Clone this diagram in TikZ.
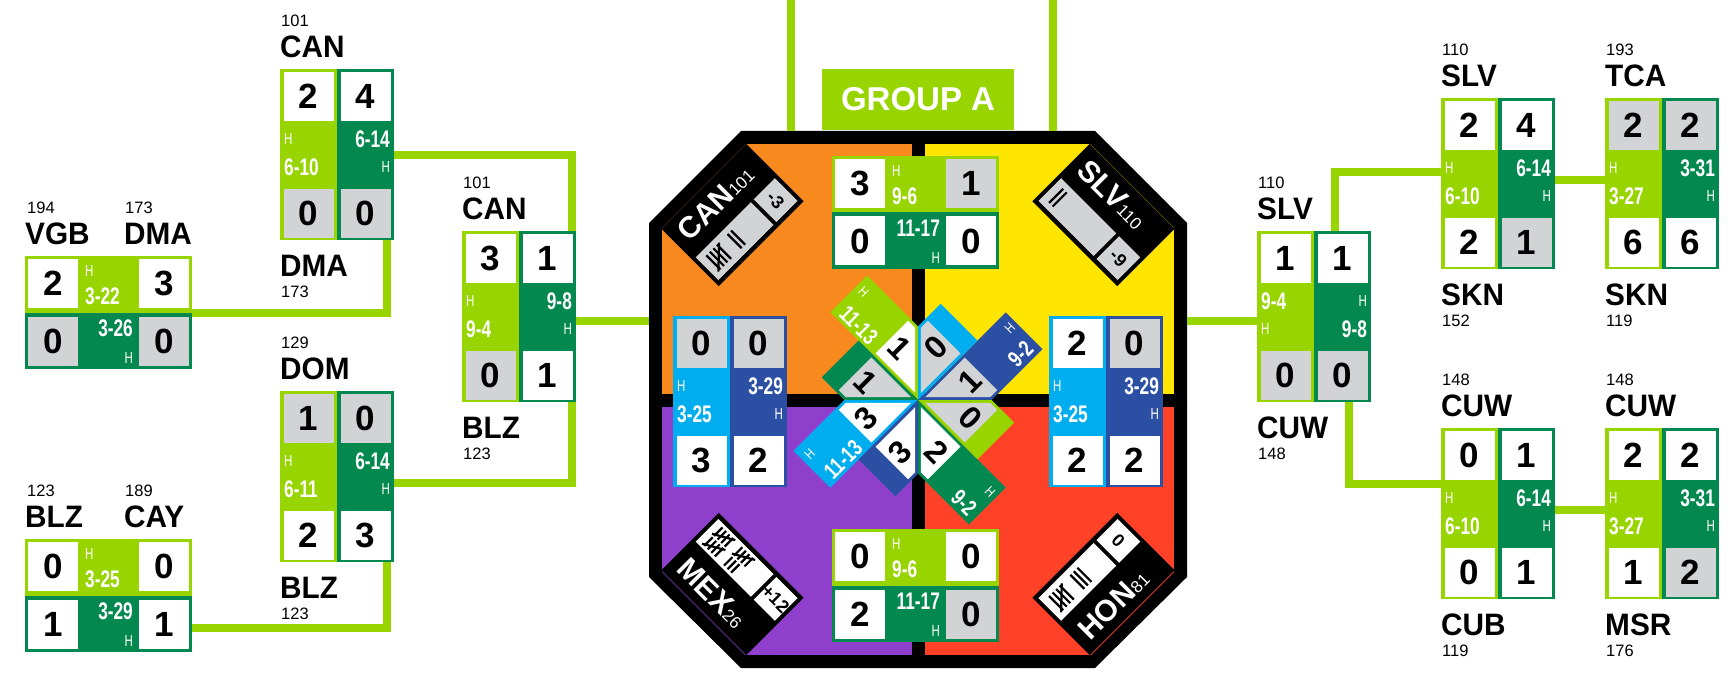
\documentclass[tikz,border=0pt]{standalone}
\usepackage{fontspec}
\setmainfont{Liberation Sans}
\definecolor{lgreen}{RGB}{151,212,0}
\definecolor{dgreen}{RGB}{3,137,79}
\definecolor{lblue}{RGB}{0,174,239}
\definecolor{dblue}{RGB}{43,80,163}
\definecolor{gy}{RGB}{209,211,212}
\colorlet{wh}{white}
\definecolor{qorange}{RGB}{247,137,31}
\definecolor{qyellow}{RGB}{255,229,0}
\definecolor{qpurple}{RGB}{142,64,204}
\definecolor{qred}{RGB}{255,65,40}

\newcommand\hh{{\fontsize{16}{16}\selectfont\mdseries H}}

% name, top left, left colour, right colour, cells, texts (left up, left down, right up, right down)
\newcommand\vcard[9]{%
  \begin{scope}[shift={(#2)}]
    \fill[#3] (0,0) rectangle (57,171);
    \fill[#4] (57,0) rectangle (114,171);
    \foreach \dg/\fl [count=\i from 0] in {#5}{%
      \pgfmathsetmacro\cx{3.5+57*mod(\i,2)}%
      \pgfmathsetmacro\cy{3+117*int(\i/2)}%
      \fill[\fl] (\cx,\cy) rectangle ++(50,49);
      \node[num] (#1d\i) at (\cx+25,\cy+24.5) {\dg};
    }
    \node[sc, anchor=west] (#1lt) at (4,70) {#6};
    \node[sc, anchor=west] (#1lb) at (4,98) {#7};
    \node[sc, anchor=east] (#1rt) at (110,70) {#8};
    \node[sc, anchor=east] (#1rb) at (110,98) {#9};
    \node[inner sep=0pt, minimum width=114pt, minimum height=171pt, anchor=north west] (#1) at (0,0) {};
  \end{scope}}

% name, top left, top colour, bottom colour, cells, texts (top up, top down, bottom up, bottom down)
\newcommand\hcard[9]{%
  \begin{scope}[shift={(#2)}]
    \fill[#3] (0,0) rectangle (167,56.5);
    \fill[#4] (0,56.5) rectangle (167,113);
    \foreach \dg/\fl [count=\i from 0] in {#5}{%
      \pgfmathsetmacro\cx{3+111*mod(\i,2)}%
      \pgfmathsetmacro\cy{3+57.5*int(\i/2)}%
      \fill[\fl] (\cx,\cy) rectangle ++(50,49);
      \node[num] (#1d\i) at (\cx+25,\cy+24.5) {\dg};
    }
    \node[sc, anchor=west] (#1lt) at (60,15) {#6};
    \node[sc, anchor=west] (#1lb) at (60,40) {#7};
    \node[sc, anchor=east] (#1rt) at (108,72) {#8};
    \node[sc, anchor=east] (#1rb) at (108,102) {#9};
    \node[inner sep=0pt, minimum width=167pt, minimum height=113pt, anchor=north west] (#1) at (0,0) {};
  \end{scope}}

\newcommand\cardlabels[5]{%
  \node[rank] (#1rankA) at ([xshift=1pt,yshift=48pt]#1.north west) {#2};
  \node[team] (#1teamA) at ([yshift=22pt]#1.north west) {#3};
  \node[team] (#1teamB) at ([yshift=-25pt]#1.south west) {#4};
  \node[rank] (#1rankB) at ([xshift=1pt,yshift=-51pt]#1.south west) {#5};}

\newcommand\pairlabels[5]{%
  \node[rank] (#1rankA) at ([xshift=2pt,yshift=48pt]#1.north west) {#2};
  \node[team] (#1teamA) at ([yshift=22pt]#1.north west) {#3};
  \node[rank] (#1rankB) at ([xshift=100pt,yshift=48pt]#1.north west) {#4};
  \node[team] (#1teamB) at ([xshift=99pt,yshift=22pt]#1.north west) {#5};}

% x, y, strokes, half height
\newcommand\tallygrp[4]{%
  \foreach \k in {1,...,#3}{\ifnum\k<5 \draw[tally] ({#1+5*\k},{#2-#4}) -- ++(0,{2*#4});\fi}%
  \ifnum#3=5 \draw[tally] ({#1+2},{#2+#4}) -- ({#1+23},{#2-#4});\fi}

% centre, angle, side, team, rank, tallies, points, box colour
\newcommand\teamband[8]{%
  \begin{scope}[shift={(#1)}, rotate=#2]
    \fill (-60,-40.5) rectangle (60,40.5);
    \pgfmathsetmacro\by{-20*#3}
    \node[bandname, rotate=#2] (#4band) at (-50,{21*#3}) {#4{\fontsize{17}{17}\selectfont\mdseries #5}};
    \fill[#8] (-56,{\by-16}) rectangle (22,{\by+16});
    \fill[#8] (26,{\by-16}) rectangle (56,{\by+16});
    #6
    \node[bandpts] (#4pts) at (41,\by) {#7};
  \end{scope}}

% angle, long colour, short colour, long cell, digit, short cell, digit, text angle, texts
\newcommand\pinarm[9]{%
  \begin{scope}[shift={(918,400)}, rotate=#1]
    \fill[#2] (0,0) -- (52,52) -- (124,52) -- (124,0) -- cycle;
    \fill[#3] (0,0) -- (52,-52) -- (84,-52) -- (84,0) -- cycle;
    \fill[#4] (7,3) -- (53,49) -- (63,49) -- (63,3) -- cycle;
    \fill[#6] (7,-3) -- (53,-49) -- (63,-49) -- (63,-3) -- cycle;
    \node[rotate=#8, pindig] (arm#1a) at (50,24) {#5};
    \node[rotate=#8, pindig] (arm#1b) at (50,-24) {#7};
    #9
  \end{scope}}

\begin{document}
\begin{tikzpicture}[x=1pt, y=-1pt,
  link/.style={draw=lgreen, line width=8pt},
  num/.style={font=\fontsize{35}{35}\selectfont\bfseries, inner sep=0pt},
  sc/.style={font=\fontsize{24}{24}\selectfont\bfseries, text=white, inner sep=0pt, xscale=0.72},
  team/.style={font=\fontsize{31}{31}\selectfont\bfseries, anchor=west, inner sep=0pt, xscale=0.96},
  rank/.style={font=\fontsize{16.5}{16.5}\selectfont, anchor=west, inner sep=0pt},
  bandname/.style={font=\fontsize{30}{30}\selectfont\bfseries, text=white, anchor=west, inner sep=0pt},
  bandpts/.style={font=\fontsize{18}{18}\selectfont\bfseries, rotate=-45, inner sep=0pt},
  tally/.style={line width=2.2pt},
  pindig/.style={font=\fontsize{32}{32}\selectfont\bfseries, inner sep=0pt},
  pinsc/.style={font=\fontsize{23}{23}\selectfont\bfseries, text=white, inner sep=0pt, xscale=0.75},
  pinh/.style={font=\fontsize{14}{14}\selectfont, text=white, inner sep=0pt, xscale=0.8},
]
\useasboundingbox (0,0) rectangle (1731,676);

% group board
\node[inner sep=0pt, minimum width=538pt, minimum height=537pt] (oct) at (918,399.5) {};
\fill (741,131) -- (1095,131) -- (1187,223) -- (1187,577) -- (1095,668) -- (741,668) -- (649,577) -- (649,223) -- cycle;
\begin{scope}
  \clip (746,144) -- (1090,144) -- (1174,228) -- (1174,572) -- (1091,655) -- (745,655) -- (662,572) -- (662,228) -- cycle;
  \fill[qorange] (662,144) rectangle (918,400);
  \fill[qyellow] (918,144) rectangle (1174,400);
  \fill[qpurple] (662,400) rectangle (918,655);
  \fill[qred] (918,400) rectangle (1174,655);
\end{scope}
\fill (911.5,144) rectangle (924.5,655);
\fill (662,393.5) rectangle (1174,406.5);

\teamband{732.5,215}{45}{-1}{CAN}{101}{\tallygrp{-52}{\by}{5}{10}\tallygrp{-22}{\by}{2}{10}}{-3}{gy}
\teamband{1103.5,215}{-45}{-1}{SLV}{110}{\tallygrp{-52}{\by}{2}{10}}{-9}{gy}
\teamband{732.5,584}{-45}{1}{MEX}{26}{\tallygrp{-52}{\by-7}{5}{6}\tallygrp{-24}{\by-7}{5}{6}\tallygrp{-52}{\by+7}{5}{6}\tallygrp{-24}{\by+7}{3}{6}}{+12}{wh}
\teamband{1103.5,584}{45}{1}{HON}{81}{\tallygrp{-52}{\by}{5}{10}\tallygrp{-22}{\by}{3}{10}}{0}{wh}

\pinarm{135}{lgreen}{dgreen}{wh}{1}{gy}{1}{-45}{\node[rotate=-45, pinsc] (tlsc) at (95,11) {11-13}; \node[rotate=-45, pinh] (tlh) at (115,38) {H};}
\pinarm{45}{dblue}{lblue}{gy}{1}{gy}{0}{45}{\node[rotate=45, pinsc] (trsc) at (105,40) {9-2}; \node[rotate=45, pinh] (trh) at (116,14) {H};}
\pinarm{225}{lblue}{dblue}{wh}{3}{wh}{3}{45}{\node[rotate=45, pinsc] (blsc) at (95,11) {11-13}; \node[rotate=45, pinh] (blh) at (115,38) {H};}
\pinarm{315}{dgreen}{lgreen}{wh}{2}{gy}{0}{-45}{\node[rotate=-45, pinsc] (brsc) at (105,40) {9-2}; \node[rotate=-45, pinh] (brh) at (116,14) {H};}

\hcard{topmatch}{832,156}{lgreen}{dgreen}{3/wh,1/gy,0/wh,0/wh}{\hh}{9-6}{11-17}{\hh}
\hcard{botmatch}{832,529}{lgreen}{dgreen}{0/wh,0/wh,2/wh,0/gy}{\hh}{9-6}{11-17}{\hh}
\vcard{blueleft}{673,316}{lblue}{dblue}{0/gy,0/gy,3/wh,2/wh}{\hh}{3-25}{3-29}{\hh}
\vcard{blueright}{1049,316}{lblue}{dblue}{2/wh,0/gy,2/wh,2/wh}{\hh}{3-25}{3-29}{\hh}

\node[fill=lgreen, text=white, font=\fontsize{33}{33}\selectfont\bfseries, inner sep=0pt,
      minimum width=192pt, minimum height=61pt] (grouphead) at (918,99.5) {GROUP A};

% left bracket
\hcard{vgbdma}{25,256}{lgreen}{dgreen}{2/wh,3/wh,0/gy,0/gy}{\hh}{3-22}{3-26}{\hh}
\hcard{blzcay}{25,539}{lgreen}{dgreen}{0/wh,0/wh,1/wh,1/wh}{\hh}{3-25}{3-29}{\hh}
\vcard{candma}{280,69}{lgreen}{dgreen}{2/wh,4/wh,0/gy,0/gy}{\hh}{6-10}{6-14}{\hh}
\vcard{domblz}{280,391}{lgreen}{dgreen}{1/gy,0/gy,2/wh,3/wh}{\hh}{6-11}{6-14}{\hh}
\vcard{canblz}{462,231}{lgreen}{dgreen}{3/wh,1/wh,0/gy,1/wh}{\hh}{9-4}{9-8}{\hh}

% right bracket
\vcard{slvcuw}{1257,231}{lgreen}{dgreen}{1/wh,1/wh,0/gy,0/gy}{9-4}{\hh}{\hh}{9-8}
\vcard{slvskn}{1441,98}{lgreen}{dgreen}{2/wh,4/wh,2/wh,1/gy}{\hh}{6-10}{6-14}{\hh}
\vcard{tcaskn}{1605,98}{lgreen}{dgreen}{2/gy,2/gy,6/wh,6/wh}{\hh}{3-27}{3-31}{\hh}
\vcard{cuwcub}{1441,428}{lgreen}{dgreen}{0/wh,1/wh,0/wh,1/wh}{\hh}{6-10}{6-14}{\hh}
\vcard{cuwmsr}{1605,428}{lgreen}{dgreen}{2/wh,2/wh,1/wh,2/gy}{\hh}{3-27}{3-31}{\hh}

\pairlabels{vgbdma}{194}{VGB}{173}{DMA}
\pairlabels{blzcay}{123}{BLZ}{189}{CAY}
\cardlabels{candma}{101}{CAN}{DMA}{173}
\cardlabels{domblz}{129}{DOM}{BLZ}{123}
\cardlabels{canblz}{101}{CAN}{BLZ}{123}
\cardlabels{slvcuw}{110}{SLV}{CUW}{148}
\cardlabels{slvskn}{110}{SLV}{SKN}{152}
\cardlabels{tcaskn}{193}{TCA}{SKN}{119}
\cardlabels{cuwcub}{148}{CUW}{CUB}{119}
\cardlabels{cuwmsr}{148}{CUW}{MSR}{176}

% connectors
\coordinate (feedL) at (791,0);
\coordinate (feedR) at (1053,0);
\draw[link] (feedL) -- (feedL |- oct.north);
\draw[link] (feedR) -- (feedR |- oct.north);
\draw[link] (vgbdma.east) -| ([xshift=-7pt]candma.south east);
\draw[link] ([yshift=-32pt]blzcay.east) -| ([xshift=-7pt]domblz.south east);
\draw[link] (candma.east) -| ([xshift=-4pt]canblz.north east);
\draw[link] ([yshift=-6.5pt]domblz.east) -| ([xshift=-4pt]canblz.south east);
\coordinate (inL) at ([yshift=-4.5pt]canblz.east);
\coordinate (outR) at ([yshift=-4.5pt]slvcuw.west);
\draw[link] (inL) -- (inL -| oct.west);
\draw[link] (outR -| oct.east) -- (outR);
\draw[link] ([xshift=21pt]slvcuw.north) |- ([yshift=12pt]slvskn.west);
\draw[link] ([xshift=35pt]slvcuw.south) |- ([yshift=30pt]cuwcub.west);
\draw[link] ([yshift=4pt]slvskn.east) -- ([yshift=4pt]tcaskn.west);
\draw[link] ([yshift=4pt]cuwcub.east) -- ([yshift=4pt]cuwmsr.west);
\end{tikzpicture}
\end{document}
